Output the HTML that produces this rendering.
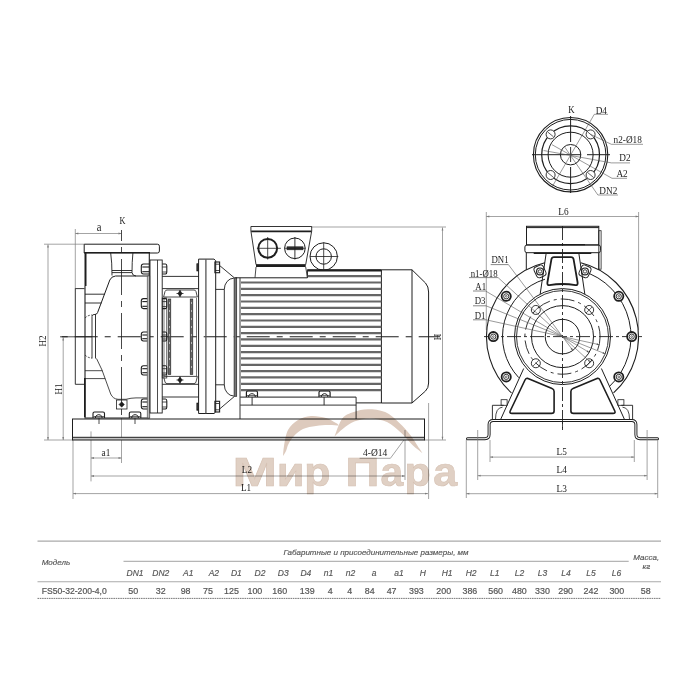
<!DOCTYPE html>
<html><head><meta charset="utf-8"><style>
html,body{margin:0;padding:0;background:#fff;width:700px;height:700px;overflow:hidden}
svg{display:block}
</style></head><body>
<svg width="700" height="700" viewBox="0 0 700 700" stroke-linecap="butt">
<rect width="700" height="700" fill="#fff"/>
<line x1="48.00" y1="244.50" x2="48.00" y2="440.00" stroke="#7c7c7c" stroke-width="0.7" />
<path d="M48.00,244.50 L48.90,247.50 L47.10,247.50Z" fill="#7c7c7c"/>
<path d="M48.00,440.00 L47.10,437.00 L48.90,437.00Z" fill="#7c7c7c"/>
<line x1="44.00" y1="244.20" x2="84.00" y2="244.20" stroke="#7c7c7c" stroke-width="0.7" />
<line x1="44.00" y1="440.00" x2="73.00" y2="440.00" stroke="#7c7c7c" stroke-width="0.7" />
<text transform="translate(46.10 341.00) rotate(-90) scale(0.88 1)" font-family="Liberation Serif" font-size="10.3" fill="#222" text-anchor="middle" >H2</text>
<line x1="63.20" y1="337.50" x2="63.20" y2="440.00" stroke="#7c7c7c" stroke-width="0.7" />
<path d="M63.20,337.50 L64.10,340.50 L62.30,340.50Z" fill="#7c7c7c"/>
<path d="M63.20,440.00 L62.30,437.00 L64.10,437.00Z" fill="#7c7c7c"/>
<text transform="translate(61.90 389.00) rotate(-90) scale(0.88 1)" font-family="Liberation Serif" font-size="10.3" fill="#222" text-anchor="middle" >H1</text>
<line x1="75.30" y1="233.50" x2="121.50" y2="233.50" stroke="#7c7c7c" stroke-width="0.7" />
<path d="M75.30,233.50 L78.30,232.60 L78.30,234.40Z" fill="#7c7c7c"/>
<path d="M121.50,233.50 L118.50,234.40 L118.50,232.60Z" fill="#7c7c7c"/>
<line x1="75.30" y1="229.00" x2="75.30" y2="289.00" stroke="#7c7c7c" stroke-width="0.7" />
<text transform="translate(99.10 231.10) scale(0.85 1)" font-family="Liberation Serif" font-size="12.5" fill="#222" text-anchor="middle" >a</text>
<text transform="translate(122.50 223.60) scale(0.8 1)" font-family="Liberation Serif" font-size="10.3" fill="#222" text-anchor="middle" >K</text>
<line x1="442.50" y1="227.50" x2="442.50" y2="439.80" stroke="#7c7c7c" stroke-width="0.7" />
<path d="M442.50,227.50 L443.40,230.50 L441.60,230.50Z" fill="#7c7c7c"/>
<path d="M442.50,439.80 L441.60,436.80 L443.40,436.80Z" fill="#7c7c7c"/>
<line x1="311.00" y1="227.00" x2="446.00" y2="227.00" stroke="#7c7c7c" stroke-width="0.7" />
<line x1="424.00" y1="440.00" x2="446.00" y2="440.00" stroke="#7c7c7c" stroke-width="0.7" />
<text transform="translate(441.00 337.00) rotate(-90) scale(0.88 1)" font-family="Liberation Serif" font-size="10.3" fill="#222" text-anchor="middle" >H</text>
<line x1="91.00" y1="458.00" x2="121.50" y2="458.00" stroke="#7c7c7c" stroke-width="0.7" />
<path d="M91.00,458.00 L94.00,457.10 L94.00,458.90Z" fill="#7c7c7c"/>
<path d="M121.50,458.00 L118.50,458.90 L118.50,457.10Z" fill="#7c7c7c"/>
<text transform="translate(105.90 455.90) scale(0.88 1)" font-family="Liberation Serif" font-size="10.5" fill="#222" text-anchor="middle" >a1</text>
<line x1="91.00" y1="431.40" x2="91.00" y2="481.40" stroke="#7c7c7c" stroke-width="0.7" />
<line x1="121.50" y1="230.00" x2="121.50" y2="418.00" stroke="#333" stroke-width="0.9" stroke-dasharray="36 6 6 6" stroke-dashoffset="25"/>
<line x1="121.50" y1="418.00" x2="121.50" y2="463.00" stroke="#7c7c7c" stroke-width="0.7" />
<line x1="91.00" y1="476.00" x2="405.00" y2="476.00" stroke="#7c7c7c" stroke-width="0.7" />
<path d="M91.00,476.00 L94.00,475.10 L94.00,476.90Z" fill="#7c7c7c"/>
<path d="M405.00,476.00 L402.00,476.90 L402.00,475.10Z" fill="#7c7c7c"/>
<line x1="405.00" y1="430.00" x2="405.00" y2="480.00" stroke="#7c7c7c" stroke-width="0.7" />
<text transform="translate(246.90 472.60) scale(0.92 1)" font-family="Liberation Serif" font-size="10" fill="#222" text-anchor="middle" >L2</text>
<line x1="73.00" y1="493.60" x2="428.00" y2="493.60" stroke="#7c7c7c" stroke-width="0.7" />
<path d="M73.00,493.60 L76.00,492.70 L76.00,494.50Z" fill="#7c7c7c"/>
<path d="M428.00,493.60 L425.00,494.50 L425.00,492.70Z" fill="#7c7c7c"/>
<line x1="73.00" y1="440.00" x2="73.00" y2="499.00" stroke="#7c7c7c" stroke-width="0.7" />
<line x1="428.60" y1="403.00" x2="428.60" y2="499.00" stroke="#7c7c7c" stroke-width="0.7" />
<text transform="translate(246.00 490.90) scale(0.92 1)" font-family="Liberation Serif" font-size="10" fill="#222" text-anchor="middle" >L1</text>
<text transform="translate(363.00 455.50) scale(0.95 1)" font-family="Liberation Serif" font-size="10" fill="#222" text-anchor="start" >4-Ø14</text>
<path d="M359.6,458.3 L390.4,458.3 L405,438.5" stroke="#7c7c7c" stroke-width="0.7" fill="none" />
<line x1="60.00" y1="336.80" x2="92.00" y2="336.80" stroke="#1e1e1e" stroke-width="0.8" />
<line x1="56.00" y1="336.80" x2="440.00" y2="336.80" stroke="#1e1e1e" stroke-width="1.1" stroke-dasharray="23 7 6 7" stroke-dashoffset="24.3"/>
<rect x="72.50" y="437.30" width="352.00" height="2.70" rx="0" stroke="#1e1e1e" stroke-width="0" fill="#c4c4c4" />
<rect x="72.50" y="419.00" width="352.00" height="21.00" rx="0" stroke="#1e1e1e" stroke-width="1.0" fill="none" />
<line x1="72.50" y1="437.30" x2="424.50" y2="437.30" stroke="#1e1e1e" stroke-width="1.0" />
<path d="M84.2,244.2 L157.4,244.2 Q159.4,244.2 159.4,246.2 L159.4,251 Q159.4,253 157.4,253 L84.2,253 Z" stroke="#1e1e1e" stroke-width="1.0" fill="none" />
<line x1="84.20" y1="252.60" x2="150.00" y2="252.60" stroke="#1e1e1e" stroke-width="1.4" />
<path d="M85,286 L85,418 L149.3,418 L149.3,253" stroke="#1e1e1e" stroke-width="1.1" fill="none" />
<line x1="85.50" y1="253.00" x2="85.50" y2="286.00" stroke="#1e1e1e" stroke-width="2.0" />
<path d="M84.5,288.6 L75.3,288.6 L75.3,384.3 L84,384.3" stroke="#1e1e1e" stroke-width="0.9" fill="none" />
<line x1="84.80" y1="378.00" x2="84.80" y2="417.00" stroke="#1e1e1e" stroke-width="1.6" />
<path d="M110.7,253 Q112,262 112,275.5 M132.9,253 Q132,262 132,272.5 Q132.3,275.8 136,276" stroke="#1e1e1e" stroke-width="0.9" fill="none" />
<line x1="112.00" y1="270.50" x2="132.00" y2="270.50" stroke="#1e1e1e" stroke-width="0.9" />
<line x1="112.00" y1="272.60" x2="132.00" y2="272.60" stroke="#1e1e1e" stroke-width="0.9" />
<path d="M149,276 L115.5,276 Q111.5,276.3 109.8,280 L97.6,312.5 Q96.8,314.5 95,314.5" stroke="#1e1e1e" stroke-width="1.0" fill="none" />
<line x1="85.00" y1="294.20" x2="104.80" y2="294.20" stroke="#1e1e1e" stroke-width="0.9" />
<line x1="85.00" y1="303.00" x2="101.50" y2="303.00" stroke="#1e1e1e" stroke-width="0.9" />
<path d="M92,358.5 L92,316.5 Q92,314.5 94,314.5 L95.5,314.5 L95.5,358.5" stroke="#1e1e1e" stroke-width="0.9" fill="none" />
<path d="M85,318 Q88,315 92,315" stroke="#1e1e1e" stroke-width="0.8" fill="none" stroke-dasharray="2 1.5"/>
<path d="M85,355 Q88,358 92,358" stroke="#1e1e1e" stroke-width="0.8" fill="none" stroke-dasharray="2 1.5"/>
<path d="M96.5,358.5 L102,370 L110.7,394 Q113,399 118,399.3 L126,399.3 Q131,397.9 136,397.9 L148,397.9" stroke="#1e1e1e" stroke-width="0.8" fill="none" />
<line x1="85.00" y1="370.70" x2="102.30" y2="370.70" stroke="#1e1e1e" stroke-width="0.8" />
<line x1="85.00" y1="378.60" x2="105.20" y2="378.60" stroke="#1e1e1e" stroke-width="0.8" />
<path d="M93,418 L93,413.5 Q93,412 94.5,412 L103,412 Q104.5,412 104.5,413.5 L104.5,418" stroke="#1e1e1e" stroke-width="1.1" fill="none" />
<path d="M95.5,418 L95.5,416.5 Q98.75,412.8 102,416.5 L102,418" stroke="#1e1e1e" stroke-width="1.0" fill="none" />
<line x1="93.50" y1="416.60" x2="104.00" y2="416.60" stroke="#1e1e1e" stroke-width="0.7" />
<path d="M129.3,418 L129.3,413.5 Q129.3,412 130.8,412 L139.3,412 Q140.8,412 140.8,413.5 L140.8,418" stroke="#1e1e1e" stroke-width="1.1" fill="none" />
<path d="M131.8,418 L131.8,416.5 Q135.05,412.8 138.3,416.5 L138.3,418" stroke="#1e1e1e" stroke-width="1.0" fill="none" />
<line x1="129.80" y1="416.60" x2="140.30" y2="416.60" stroke="#1e1e1e" stroke-width="0.7" />
<line x1="99.00" y1="418.00" x2="99.00" y2="424.00" stroke="#1e1e1e" stroke-width="0.8" />
<line x1="135.00" y1="418.00" x2="135.00" y2="424.00" stroke="#1e1e1e" stroke-width="0.8" />
<rect x="116.40" y="400.00" width="10.60" height="9.00" rx="0" stroke="#1e1e1e" stroke-width="0.8" fill="none" />
<path d="M121.7,401.8 L124.4,404.5 L121.7,407.2 L119,404.5Z" stroke="#1e1e1e" stroke-width="0.5" fill="#1e1e1e" />
<path d="M149.3,264 L143.5,264 Q141.3,264 141.3,266.5 L141.3,271.5 Q141.3,274 143.5,274 L149.3,274" stroke="#1e1e1e" stroke-width="1.1" fill="none" />
<line x1="142.30" y1="267.00" x2="149.30" y2="267.00" stroke="#1e1e1e" stroke-width="1.1" />
<line x1="142.30" y1="271.70" x2="149.30" y2="271.70" stroke="#1e1e1e" stroke-width="1.1" />
<path d="M162.2,264 L165.5,264 Q166.8,264 166.8,266 L166.8,272 Q166.8,274 165.5,274 L162.2,274" stroke="#1e1e1e" stroke-width="1.1" fill="none" />
<line x1="162.20" y1="267.00" x2="166.80" y2="267.00" stroke="#1e1e1e" stroke-width="0.8" />
<line x1="162.20" y1="272.00" x2="166.80" y2="272.00" stroke="#1e1e1e" stroke-width="0.8" />
<path d="M149.3,298.6 L143.5,298.6 Q141.3,298.6 141.3,301.1 L141.3,306.1 Q141.3,308.6 143.5,308.6 L149.3,308.6" stroke="#1e1e1e" stroke-width="1.1" fill="none" />
<line x1="142.30" y1="301.60" x2="149.30" y2="301.60" stroke="#1e1e1e" stroke-width="1.1" />
<line x1="142.30" y1="306.30" x2="149.30" y2="306.30" stroke="#1e1e1e" stroke-width="1.1" />
<path d="M162.2,298.6 L165.5,298.6 Q166.8,298.6 166.8,300.6 L166.8,306.6 Q166.8,308.6 165.5,308.6 L162.2,308.6" stroke="#1e1e1e" stroke-width="1.1" fill="none" />
<line x1="162.20" y1="301.60" x2="166.80" y2="301.60" stroke="#1e1e1e" stroke-width="0.8" />
<line x1="162.20" y1="306.60" x2="166.80" y2="306.60" stroke="#1e1e1e" stroke-width="0.8" />
<path d="M149.3,332 L143.5,332 Q141.3,332 141.3,334.5 L141.3,338.5 Q141.3,341 143.5,341 L149.3,341" stroke="#1e1e1e" stroke-width="1.1" fill="none" />
<line x1="142.30" y1="335.00" x2="149.30" y2="335.00" stroke="#1e1e1e" stroke-width="1.1" />
<line x1="142.30" y1="338.70" x2="149.30" y2="338.70" stroke="#1e1e1e" stroke-width="1.1" />
<path d="M162.2,332 L165.5,332 Q166.8,332 166.8,334 L166.8,339 Q166.8,341 165.5,341 L162.2,341" stroke="#1e1e1e" stroke-width="1.1" fill="none" />
<line x1="162.20" y1="335.00" x2="166.80" y2="335.00" stroke="#1e1e1e" stroke-width="0.8" />
<line x1="162.20" y1="339.00" x2="166.80" y2="339.00" stroke="#1e1e1e" stroke-width="0.8" />
<path d="M149.3,365.7 L143.5,365.7 Q141.3,365.7 141.3,368.2 L141.3,372.5 Q141.3,375 143.5,375 L149.3,375" stroke="#1e1e1e" stroke-width="1.1" fill="none" />
<line x1="142.30" y1="368.70" x2="149.30" y2="368.70" stroke="#1e1e1e" stroke-width="1.1" />
<line x1="142.30" y1="372.70" x2="149.30" y2="372.70" stroke="#1e1e1e" stroke-width="1.1" />
<path d="M162.2,365.7 L165.5,365.7 Q166.8,365.7 166.8,367.7 L166.8,373 Q166.8,375 165.5,375 L162.2,375" stroke="#1e1e1e" stroke-width="1.1" fill="none" />
<line x1="162.20" y1="368.70" x2="166.80" y2="368.70" stroke="#1e1e1e" stroke-width="0.8" />
<line x1="162.20" y1="373.00" x2="166.80" y2="373.00" stroke="#1e1e1e" stroke-width="0.8" />
<path d="M149.3,399 L143.5,399 Q141.3,399 141.3,401.5 L141.3,406.5 Q141.3,409 143.5,409 L149.3,409" stroke="#1e1e1e" stroke-width="1.1" fill="none" />
<line x1="142.30" y1="402.00" x2="149.30" y2="402.00" stroke="#1e1e1e" stroke-width="1.1" />
<line x1="142.30" y1="406.70" x2="149.30" y2="406.70" stroke="#1e1e1e" stroke-width="1.1" />
<path d="M162.2,399 L165.5,399 Q166.8,399 166.8,401 L166.8,407 Q166.8,409 165.5,409 L162.2,409" stroke="#1e1e1e" stroke-width="1.1" fill="none" />
<line x1="162.20" y1="402.00" x2="166.80" y2="402.00" stroke="#1e1e1e" stroke-width="0.8" />
<line x1="162.20" y1="407.00" x2="166.80" y2="407.00" stroke="#1e1e1e" stroke-width="0.8" />
<rect x="147.20" y="276.00" width="2.60" height="142.00" rx="0" stroke="#444" stroke-width="0.6" fill="#bbb" />
<rect x="150.00" y="260.00" width="12.20" height="153.00" rx="0" stroke="#1e1e1e" stroke-width="0.9" fill="none" />
<line x1="157.50" y1="260.00" x2="157.50" y2="413.00" stroke="#1e1e1e" stroke-width="0.8" />
<line x1="162.20" y1="276.40" x2="198.60" y2="276.40" stroke="#1e1e1e" stroke-width="0.9" />
<line x1="162.20" y1="288.60" x2="198.60" y2="288.60" stroke="#1e1e1e" stroke-width="0.9" />
<line x1="162.20" y1="384.30" x2="198.60" y2="384.30" stroke="#1e1e1e" stroke-width="0.9" />
<line x1="162.20" y1="397.00" x2="198.60" y2="397.00" stroke="#1e1e1e" stroke-width="0.9" />
<path d="M163.6,297 L165,291.5 Q165.5,290 167,290 L194,290 Q195.5,290 196,291.5 L197.3,297 Z" stroke="#1e1e1e" stroke-width="0.8" fill="none" />
<path d="M163.6,376.4 L197.3,376.4 L196,382 Q195.5,383.6 194,383.6 L167,383.6 Q165.5,383.6 165,382 Z" stroke="#1e1e1e" stroke-width="0.8" fill="none" />
<line x1="180.00" y1="290.00" x2="180.00" y2="297.00" stroke="#1e1e1e" stroke-width="0.8" />
<path d="M180,290.3 L182.3,293.5 L180,296.7 L177.7,293.5Z" stroke="#1e1e1e" stroke-width="0.3" fill="#1e1e1e" />
<line x1="176.50" y1="293.50" x2="183.50" y2="293.50" stroke="#1e1e1e" stroke-width="0.8" />
<line x1="180.00" y1="376.50" x2="180.00" y2="383.50" stroke="#1e1e1e" stroke-width="0.8" />
<path d="M180,376.8 L182.3,380 L180,383.2 L177.7,380Z" stroke="#1e1e1e" stroke-width="0.3" fill="#1e1e1e" />
<line x1="176.50" y1="380.00" x2="183.50" y2="380.00" stroke="#1e1e1e" stroke-width="0.8" />
<rect x="168.20" y="299.00" width="2.60" height="75.50" rx="0" stroke="#1e1e1e" stroke-width="0.6" fill="#666" />
<rect x="190.20" y="299.00" width="2.60" height="75.50" rx="0" stroke="#1e1e1e" stroke-width="0.6" fill="#666" />
<line x1="169.50" y1="302.00" x2="169.50" y2="372.00" stroke="#ddd" stroke-width="0.7" stroke-dasharray="2 6"/>
<line x1="191.50" y1="302.00" x2="191.50" y2="372.00" stroke="#ddd" stroke-width="0.7" stroke-dasharray="2 6"/>
<rect x="162.20" y="298.00" width="4.60" height="80.00" rx="0" stroke="#1e1e1e" stroke-width="0.7" fill="none" />
<line x1="164.00" y1="298.00" x2="164.00" y2="376.00" stroke="#1e1e1e" stroke-width="0.6" />
<line x1="196.50" y1="298.00" x2="196.50" y2="376.00" stroke="#1e1e1e" stroke-width="0.6" />
<path d="M198.6,413.5 L198.6,259.1 L214,259.1 L215.7,260.7 L215.7,412 L214,413.5 Z" stroke="#1e1e1e" stroke-width="1.0" fill="none" />
<line x1="205.90" y1="259.30" x2="205.90" y2="413.50" stroke="#555" stroke-width="1.3" />
<rect x="214.90" y="262.00" width="4.70" height="10.70" rx="0" stroke="#1e1e1e" stroke-width="1.1" fill="none" />
<line x1="215.20" y1="264.20" x2="219.40" y2="264.20" stroke="#1e1e1e" stroke-width="0.8" />
<line x1="215.20" y1="270.50" x2="219.40" y2="270.50" stroke="#1e1e1e" stroke-width="0.8" />
<rect x="196.80" y="263.70" width="1.60" height="7.30" rx="0" stroke="#1e1e1e" stroke-width="0.6" fill="#333" />
<rect x="214.90" y="401.30" width="4.70" height="10.70" rx="0" stroke="#1e1e1e" stroke-width="1.1" fill="none" />
<line x1="215.20" y1="403.50" x2="219.40" y2="403.50" stroke="#1e1e1e" stroke-width="0.8" />
<line x1="215.20" y1="409.80" x2="219.40" y2="409.80" stroke="#1e1e1e" stroke-width="0.8" />
<rect x="196.80" y="403.00" width="1.60" height="7.30" rx="0" stroke="#1e1e1e" stroke-width="0.6" fill="#333" />
<path d="M219.6,265.5 L234.3,277.8" stroke="#1e1e1e" stroke-width="0.9" fill="none" />
<path d="M219.6,409 L234.3,396.5" stroke="#1e1e1e" stroke-width="0.9" fill="none" />
<path d="M215.7,289.4 L224.3,289.4 L224.3,384.8 L215.7,384.8" stroke="#1e1e1e" stroke-width="0.9" fill="none" />
<path d="M224.3,289.4 A9.5,11.2 0 0 1 233.8,278.2" stroke="#1e1e1e" stroke-width="0.9" fill="none" />
<path d="M224.3,384.8 A9.5,11.2 0 0 0 233.8,396" stroke="#1e1e1e" stroke-width="0.9" fill="none" />
<rect x="234.10" y="277.80" width="2.60" height="118.50" rx="0" stroke="#222" stroke-width="0.7" fill="#777" />
<line x1="240.00" y1="277.80" x2="240.00" y2="419.00" stroke="#1e1e1e" stroke-width="0.9" />
<path d="M235.3,277.8 L307.4,277.8 L307.4,269.8 L381.4,269.8 L381.4,403 " stroke="#1e1e1e" stroke-width="1.0" fill="none" />
<line x1="307.40" y1="270.50" x2="381.40" y2="270.50" stroke="#1e1e1e" stroke-width="1.8" />
<line x1="240.20" y1="397.10" x2="356.10" y2="397.10" stroke="#1e1e1e" stroke-width="1.0" />
<line x1="356.10" y1="402.90" x2="381.40" y2="402.90" stroke="#1e1e1e" stroke-width="1.0" />
<line x1="241.00" y1="282.50" x2="381.40" y2="282.50" stroke="#666" stroke-width="2.2" />
<line x1="241.00" y1="288.83" x2="381.40" y2="288.83" stroke="#666" stroke-width="2.2" />
<line x1="241.00" y1="295.16" x2="381.40" y2="295.16" stroke="#666" stroke-width="2.2" />
<line x1="241.00" y1="301.49" x2="381.40" y2="301.49" stroke="#666" stroke-width="2.2" />
<line x1="241.00" y1="307.82" x2="381.40" y2="307.82" stroke="#666" stroke-width="2.2" />
<line x1="241.00" y1="314.15" x2="381.40" y2="314.15" stroke="#666" stroke-width="2.2" />
<line x1="241.00" y1="320.48" x2="381.40" y2="320.48" stroke="#666" stroke-width="2.2" />
<line x1="241.00" y1="326.81" x2="381.40" y2="326.81" stroke="#666" stroke-width="2.2" />
<line x1="241.00" y1="333.14" x2="381.40" y2="333.14" stroke="#666" stroke-width="2.2" />
<line x1="241.00" y1="339.47" x2="381.40" y2="339.47" stroke="#666" stroke-width="2.2" />
<line x1="241.00" y1="345.80" x2="381.40" y2="345.80" stroke="#666" stroke-width="2.2" />
<line x1="241.00" y1="352.13" x2="381.40" y2="352.13" stroke="#666" stroke-width="2.2" />
<line x1="241.00" y1="358.46" x2="381.40" y2="358.46" stroke="#666" stroke-width="2.2" />
<line x1="241.00" y1="364.79" x2="381.40" y2="364.79" stroke="#666" stroke-width="2.2" />
<line x1="241.00" y1="371.12" x2="381.40" y2="371.12" stroke="#666" stroke-width="2.2" />
<line x1="241.00" y1="377.45" x2="381.40" y2="377.45" stroke="#666" stroke-width="2.2" />
<line x1="241.00" y1="383.78" x2="381.40" y2="383.78" stroke="#666" stroke-width="2.2" />
<line x1="241.00" y1="390.11" x2="381.40" y2="390.11" stroke="#666" stroke-width="2.2" />
<line x1="307.40" y1="276.20" x2="381.40" y2="276.20" stroke="#666" stroke-width="2.2" />
<path d="M381.4,269.8 L412,269.8 L425.5,283 Q428.6,286.5 428.6,292 L428.6,383 Q428.6,388 425.5,391 L412,403 L381.4,403" stroke="#1e1e1e" stroke-width="1.0" fill="none" />
<line x1="412.00" y1="269.80" x2="412.00" y2="403.00" stroke="#1e1e1e" stroke-width="1.0" />
<path d="M250.9,226.5 L311.7,226.5 L311.7,231 L305.7,264.6 L256,264.6 L250.9,231 Z" stroke="#1e1e1e" stroke-width="0.9" fill="none" />
<line x1="251.20" y1="231.30" x2="311.40" y2="231.30" stroke="#1e1e1e" stroke-width="1.7" />
<line x1="256.00" y1="265.80" x2="305.70" y2="265.80" stroke="#1e1e1e" stroke-width="2.2" />
<path d="M256,267 L255,277.6 M305.7,267 L307.4,277.6" stroke="#1e1e1e" stroke-width="0.8" fill="none" />
<circle cx="267.70" cy="248.30" r="9.40" stroke="#1e1e1e" stroke-width="2.0" fill="none" />
<line x1="256.90" y1="248.30" x2="280.90" y2="248.30" stroke="#1e1e1e" stroke-width="0.8" />
<line x1="267.70" y1="237.00" x2="267.70" y2="259.50" stroke="#1e1e1e" stroke-width="0.8" />
<circle cx="294.90" cy="248.30" r="10.30" stroke="#1e1e1e" stroke-width="1.0" fill="none" />
<rect x="287.00" y="246.80" width="16.00" height="3.00" rx="0" stroke="#1e1e1e" stroke-width="0.6" fill="#333" />
<line x1="284.50" y1="248.30" x2="305.50" y2="248.30" stroke="#1e1e1e" stroke-width="0.8" />
<line x1="294.90" y1="237.00" x2="294.90" y2="259.50" stroke="#1e1e1e" stroke-width="0.9" />
<circle cx="323.70" cy="256.50" r="13.70" stroke="#1e1e1e" stroke-width="1.0" fill="none" />
<circle cx="323.70" cy="256.50" r="7.70" stroke="#1e1e1e" stroke-width="1.0" fill="none" />
<line x1="310.00" y1="256.50" x2="338.30" y2="256.50" stroke="#1e1e1e" stroke-width="0.8" />
<line x1="323.70" y1="242.30" x2="323.70" y2="269.70" stroke="#1e1e1e" stroke-width="0.8" />
<path d="M246.4,397 L246.4,392.5 Q246.4,391 247.9,391 L256.0,391 Q257.5,391 257.5,392.5 L257.5,397" stroke="#1e1e1e" stroke-width="1.2" fill="none" />
<path d="M248.70000000000002,397 L248.70000000000002,395.5 Q251.95000000000002,391.8 255.20000000000002,395.5 L255.20000000000002,397" stroke="#1e1e1e" stroke-width="1.0" fill="none" />
<line x1="246.90" y1="395.60" x2="257.00" y2="395.60" stroke="#1e1e1e" stroke-width="0.7" />
<path d="M319,397 L319,392.5 Q319,391 320.5,391 L328.6,391 Q330.1,391 330.1,392.5 L330.1,397" stroke="#1e1e1e" stroke-width="1.2" fill="none" />
<path d="M321.3,397 L321.3,395.5 Q324.55,391.8 327.8,395.5 L327.8,397" stroke="#1e1e1e" stroke-width="1.0" fill="none" />
<line x1="319.50" y1="395.60" x2="329.60" y2="395.60" stroke="#1e1e1e" stroke-width="0.7" />
<path d="M240.2,405.1 L356.1,405.1 M356.1,397.1 L356.1,419" stroke="#1e1e1e" stroke-width="0.9" fill="none" />
<line x1="252.10" y1="397.10" x2="252.10" y2="405.10" stroke="#1e1e1e" stroke-width="0.9" />
<line x1="324.10" y1="397.10" x2="324.10" y2="405.10" stroke="#1e1e1e" stroke-width="0.9" />
<line x1="486.30" y1="216.50" x2="638.60" y2="216.50" stroke="#7c7c7c" stroke-width="0.7" />
<path d="M486.30,216.50 L489.30,215.60 L489.30,217.40Z" fill="#7c7c7c"/>
<path d="M638.60,216.50 L635.60,217.40 L635.60,215.60Z" fill="#7c7c7c"/>
<line x1="486.30" y1="212.00" x2="486.30" y2="330.00" stroke="#7c7c7c" stroke-width="0.7" />
<line x1="638.60" y1="212.00" x2="638.60" y2="330.00" stroke="#7c7c7c" stroke-width="0.7" />
<text transform="translate(563.40 214.90) scale(0.9 1)" font-family="Liberation Serif" font-size="10.3" fill="#222" text-anchor="middle" >L6</text>
<rect x="526.50" y="226.30" width="72.30" height="18.60" rx="0" stroke="#1e1e1e" stroke-width="1.0" fill="none" />
<line x1="526.50" y1="227.60" x2="598.80" y2="227.60" stroke="#1e1e1e" stroke-width="1.0" />
<rect x="524.90" y="245.00" width="75.50" height="7.70" rx="2" stroke="#1e1e1e" stroke-width="1.0" fill="none" />
<path d="M526.3,252.7 L526.3,269.8 M598.8,252.7 L598.8,270" stroke="#1e1e1e" stroke-width="1.0" fill="none" />
<rect x="598.80" y="230.70" width="2.30" height="38.50" rx="0" stroke="#1e1e1e" stroke-width="0.8" fill="none" />
<line x1="540.00" y1="244.60" x2="585.00" y2="244.60" stroke="#1e1e1e" stroke-width="1.4" />
<line x1="533.70" y1="253.20" x2="591.30" y2="253.20" stroke="#1e1e1e" stroke-width="1.6" />
<path d="M511.45,392.90 A76,76 0 0 1 544.89,262.67" stroke="#1e1e1e" stroke-width="1.1" fill="none" />
<path d="M580.76,262.83 A76,76 0 0 1 613.55,392.90" stroke="#1e1e1e" stroke-width="1.1" fill="none" />
<path d="M518.76,377.67 A60,60 0 0 1 544.96,279.22" stroke="#1e1e1e" stroke-width="1.0" fill="none" />
<path d="M581.38,270.75 A68.5,68.5 0 0 1 609.48,386.45" stroke="#1e1e1e" stroke-width="1.0" fill="none" />
<circle cx="562.50" cy="336.60" r="48.00" stroke="#1e1e1e" stroke-width="1.0" fill="none" />
<circle cx="562.50" cy="336.60" r="46.00" stroke="#1e1e1e" stroke-width="0.9" fill="none" />
<circle cx="562.50" cy="336.60" r="37.60" stroke="#1e1e1e" stroke-width="0.9" fill="none" stroke-dasharray="14 4 3 4"/>
<circle cx="562.50" cy="336.60" r="31.00" stroke="#1e1e1e" stroke-width="1.0" fill="none" />
<circle cx="562.50" cy="336.60" r="17.25" stroke="#1e1e1e" stroke-width="1.0" fill="none" />
<circle cx="589.16" cy="363.26" r="4.50" stroke="#1e1e1e" stroke-width="0.9" fill="none" />
<line x1="586.16" y1="366.26" x2="592.16" y2="360.26" stroke="#1e1e1e" stroke-width="0.7" />
<circle cx="535.84" cy="363.26" r="4.50" stroke="#1e1e1e" stroke-width="0.9" fill="none" />
<line x1="532.84" y1="366.26" x2="538.84" y2="360.26" stroke="#1e1e1e" stroke-width="0.7" />
<circle cx="535.84" cy="309.94" r="4.50" stroke="#1e1e1e" stroke-width="0.9" fill="none" />
<line x1="532.84" y1="312.94" x2="538.84" y2="306.94" stroke="#1e1e1e" stroke-width="0.7" />
<circle cx="589.16" cy="309.94" r="4.50" stroke="#1e1e1e" stroke-width="0.9" fill="none" />
<line x1="586.16" y1="312.94" x2="592.16" y2="306.94" stroke="#1e1e1e" stroke-width="0.7" />
<line x1="484.00" y1="336.60" x2="642.00" y2="336.60" stroke="#1e1e1e" stroke-width="0.9" stroke-dasharray="14 3 3 3"/>
<line x1="562.50" y1="226.00" x2="562.50" y2="430.00" stroke="#1e1e1e" stroke-width="0.9" stroke-dasharray="14 3 3 3"/>
<circle cx="631.70" cy="336.60" r="4.60" stroke="#1e1e1e" stroke-width="1.8" fill="#fff" />
<circle cx="631.70" cy="336.60" r="2.60" stroke="#1e1e1e" stroke-width="0.9" fill="none" />
<circle cx="631.70" cy="336.60" r="0.90" stroke="#1e1e1e" stroke-width="0.6" fill="none" />
<circle cx="493.30" cy="336.60" r="4.60" stroke="#1e1e1e" stroke-width="1.8" fill="#fff" />
<circle cx="493.30" cy="336.60" r="2.60" stroke="#1e1e1e" stroke-width="0.9" fill="none" />
<circle cx="493.30" cy="336.60" r="0.90" stroke="#1e1e1e" stroke-width="0.6" fill="none" />
<circle cx="618.77" cy="376.88" r="4.60" stroke="#1e1e1e" stroke-width="1.8" fill="#fff" />
<circle cx="618.77" cy="376.88" r="2.60" stroke="#1e1e1e" stroke-width="0.9" fill="none" />
<circle cx="618.77" cy="376.88" r="0.90" stroke="#1e1e1e" stroke-width="0.6" fill="none" />
<circle cx="506.23" cy="376.88" r="4.60" stroke="#1e1e1e" stroke-width="1.8" fill="#fff" />
<circle cx="506.23" cy="376.88" r="2.60" stroke="#1e1e1e" stroke-width="0.9" fill="none" />
<circle cx="506.23" cy="376.88" r="0.90" stroke="#1e1e1e" stroke-width="0.6" fill="none" />
<circle cx="618.77" cy="296.32" r="4.60" stroke="#1e1e1e" stroke-width="1.8" fill="#fff" />
<circle cx="618.77" cy="296.32" r="2.60" stroke="#1e1e1e" stroke-width="0.9" fill="none" />
<circle cx="618.77" cy="296.32" r="0.90" stroke="#1e1e1e" stroke-width="0.6" fill="none" />
<circle cx="506.23" cy="296.32" r="4.60" stroke="#1e1e1e" stroke-width="1.8" fill="#fff" />
<circle cx="506.23" cy="296.32" r="2.60" stroke="#1e1e1e" stroke-width="0.9" fill="none" />
<circle cx="506.23" cy="296.32" r="0.90" stroke="#1e1e1e" stroke-width="0.6" fill="none" />
<rect x="535.00" y="265.60" width="10.00" height="11.60" rx="3" stroke="#1e1e1e" stroke-width="0.9" fill="#fff" transform="rotate(-25 540 271.4)"/>
<circle cx="540.00" cy="271.40" r="3.40" stroke="#1e1e1e" stroke-width="1.2" fill="none" />
<circle cx="540.00" cy="271.40" r="1.70" stroke="#1e1e1e" stroke-width="0.8" fill="none" />
<rect x="580.00" y="265.60" width="10.00" height="11.60" rx="3" stroke="#1e1e1e" stroke-width="0.9" fill="#fff" transform="rotate(25 585 271.4)"/>
<circle cx="585.00" cy="271.40" r="3.40" stroke="#1e1e1e" stroke-width="1.2" fill="none" />
<circle cx="585.00" cy="271.40" r="1.70" stroke="#1e1e1e" stroke-width="0.8" fill="none" />
<path d="M546.2,253 L540.2,294 M578.8,253 L584.8,294" stroke="#1e1e1e" stroke-width="1.0" fill="none" />
<path d="M554,257.1 L571,257.1 Q573.2,257.1 573.6,259.3 L577.6,282.5 Q578,285.4 575.5,285.2 Q562.5,282.8 549.5,285.2 Q547,285.4 547.4,282.5 L551.4,259.3 Q551.8,257.1 554,257.1Z" stroke="#1e1e1e" stroke-width="1.8" fill="none" />
<path d="M523.7,368.5 L500.6,419.5 M601.4,368.5 L624.5,419.5" stroke="#1e1e1e" stroke-width="1.0" fill="none" />
<path d="M527.4,378.2 L552,388.5 Q554.1,389.3 554.1,391.5 L554.1,411 Q554.1,413.4 551.5,413.4 L512,413.4 Q509.1,413.4 510.2,411 L525,380 Q526,378 527.4,378.2Z" stroke="#1e1e1e" stroke-width="1.6" fill="none" />
<path d="M597.6,378.2 L573,388.5 Q570.9,389.3 570.9,391.5 L570.9,411 Q570.9,413.4 573.5,413.4 L613,413.4 Q615.9,413.4 614.8,411 L600,380 Q599,378 597.6,378.2Z" stroke="#1e1e1e" stroke-width="1.6" fill="none" />
<path d="M467.5,438.7 L485,438.7 Q489.1,438.7 489.1,434.6 L489.1,424.6 Q489.1,420.5 493.2,420.5 L631.8,420.5 Q635.9,420.5 635.9,424.6 L635.9,434.6 Q635.9,438.7 640,438.7 L657.5,438.7" stroke="#1e1e1e" stroke-width="3.0" fill="none" stroke-linecap="round"/>
<path d="M467.5,438.7 L485,438.7 Q489.1,438.7 489.1,434.6 L489.1,424.6 Q489.1,420.5 493.2,420.5 L631.8,420.5 Q635.9,420.5 635.9,424.6 L635.9,434.6 Q635.9,438.7 640,438.7 L657.5,438.7" stroke="#fff" stroke-width="1.1" fill="none" stroke-linecap="round"/>
<path d="M492.4,419.4 L492.4,405.3 L503.7,405.3" stroke="#1e1e1e" stroke-width="0.9" fill="none" />
<path d="M495.5,419.4 Q495.5,407.5 502.5,407.2" stroke="#1e1e1e" stroke-width="0.8" fill="none" />
<rect x="501.10" y="399.70" width="6.00" height="5.60" rx="0" stroke="#1e1e1e" stroke-width="0.8" fill="none" />
<path d="M632.6,419.4 L632.6,405.3 L621.3,405.3" stroke="#1e1e1e" stroke-width="0.9" fill="none" />
<path d="M629.5,419.4 Q629.5,407.5 622.5,407.2" stroke="#1e1e1e" stroke-width="0.8" fill="none" />
<rect x="617.90" y="399.70" width="6.00" height="5.60" rx="0" stroke="#1e1e1e" stroke-width="0.8" fill="none" />
<line x1="562.50" y1="420.00" x2="562.50" y2="428.00" stroke="#1e1e1e" stroke-width="0.8" />
<line x1="490.00" y1="457.10" x2="634.30" y2="457.10" stroke="#7c7c7c" stroke-width="0.7" />
<path d="M490.00,457.10 L493.00,456.20 L493.00,458.00Z" fill="#7c7c7c"/>
<path d="M634.30,457.10 L631.30,458.00 L631.30,456.20Z" fill="#7c7c7c"/>
<line x1="490.00" y1="440.00" x2="490.00" y2="462.00" stroke="#7c7c7c" stroke-width="0.7" />
<line x1="634.30" y1="440.00" x2="634.30" y2="462.00" stroke="#7c7c7c" stroke-width="0.7" />
<text transform="translate(561.70 455.40) scale(0.9 1)" font-family="Liberation Serif" font-size="10.3" fill="#222" text-anchor="middle" >L5</text>
<line x1="477.70" y1="475.70" x2="647.10" y2="475.70" stroke="#7c7c7c" stroke-width="0.7" />
<path d="M477.70,475.70 L480.70,474.80 L480.70,476.60Z" fill="#7c7c7c"/>
<path d="M647.10,475.70 L644.10,476.60 L644.10,474.80Z" fill="#7c7c7c"/>
<line x1="477.70" y1="430.00" x2="477.70" y2="480.00" stroke="#7c7c7c" stroke-width="0.7" />
<line x1="647.10" y1="430.00" x2="647.10" y2="480.00" stroke="#7c7c7c" stroke-width="0.7" />
<text transform="translate(561.70 473.00) scale(0.9 1)" font-family="Liberation Serif" font-size="10.3" fill="#222" text-anchor="middle" >L4</text>
<line x1="466.30" y1="493.70" x2="657.70" y2="493.70" stroke="#7c7c7c" stroke-width="0.7" />
<path d="M466.30,493.70 L469.30,492.80 L469.30,494.60Z" fill="#7c7c7c"/>
<path d="M657.70,493.70 L654.70,494.60 L654.70,492.80Z" fill="#7c7c7c"/>
<line x1="466.30" y1="440.00" x2="466.30" y2="498.00" stroke="#7c7c7c" stroke-width="0.7" />
<line x1="657.70" y1="440.00" x2="657.70" y2="498.00" stroke="#7c7c7c" stroke-width="0.7" />
<text transform="translate(561.70 491.80) scale(0.9 1)" font-family="Liberation Serif" font-size="10.3" fill="#222" text-anchor="middle" >L3</text>
<text transform="translate(491.50 263.10) scale(0.88 1)" font-family="Liberation Serif" font-size="10" fill="#222" text-anchor="start" >DN1</text>
<line x1="490.70" y1="264.60" x2="508.40" y2="264.60" stroke="#555" stroke-width="0.7" />
<line x1="508.40" y1="264.60" x2="572.86" y2="350.39" stroke="#555" stroke-width="0.6" />
<path d="M572.86,350.39 L570.64,348.93 L572.08,347.85Z" fill="#555"/>
<text transform="translate(470.70 276.90) scale(0.88 1)" font-family="Liberation Serif" font-size="10" fill="#222" text-anchor="start" >n1-Ø18</text>
<line x1="469.00" y1="277.60" x2="498.10" y2="277.60" stroke="#555" stroke-width="0.7" />
<line x1="498.10" y1="277.60" x2="590.30" y2="362.07" stroke="#555" stroke-width="0.6" />
<path d="M590.30,362.07 L587.85,361.04 L589.06,359.71Z" fill="#555"/>
<text transform="translate(475.30 290.00) scale(0.88 1)" font-family="Liberation Serif" font-size="10" fill="#222" text-anchor="start" >A1</text>
<line x1="473.00" y1="291.00" x2="485.60" y2="291.00" stroke="#555" stroke-width="0.7" />
<line x1="485.60" y1="291.00" x2="589.16" y2="352.41" stroke="#555" stroke-width="0.6" />
<path d="M589.16,352.41 L586.56,351.91 L587.47,350.36Z" fill="#555"/>
<text transform="translate(474.70 304.30) scale(0.88 1)" font-family="Liberation Serif" font-size="10" fill="#222" text-anchor="start" >D3</text>
<line x1="473.00" y1="305.80" x2="486.00" y2="305.80" stroke="#555" stroke-width="0.7" />
<line x1="486.00" y1="305.80" x2="605.17" y2="353.78" stroke="#555" stroke-width="0.6" />
<path d="M605.17,353.78 L602.52,353.68 L603.19,352.01Z" fill="#555"/>
<text transform="translate(474.70 318.60) scale(0.88 1)" font-family="Liberation Serif" font-size="10" fill="#222" text-anchor="start" >D1</text>
<line x1="473.00" y1="319.80" x2="486.00" y2="319.80" stroke="#555" stroke-width="0.7" />
<line x1="486.00" y1="319.80" x2="599.22" y2="344.67" stroke="#555" stroke-width="0.6" />
<path d="M599.22,344.67 L596.59,345.01 L596.98,343.25Z" fill="#555"/>
<circle cx="570.60" cy="154.70" r="37.20" stroke="#1e1e1e" stroke-width="1.1" fill="none" />
<circle cx="570.60" cy="154.70" r="35.30" stroke="#1e1e1e" stroke-width="1.0" fill="none" />
<circle cx="570.60" cy="154.70" r="28.90" stroke="#1e1e1e" stroke-width="1.2" fill="none" />
<circle cx="570.60" cy="154.70" r="22.50" stroke="#1e1e1e" stroke-width="1.0" fill="none" />
<circle cx="570.60" cy="154.70" r="10.20" stroke="#1e1e1e" stroke-width="1.0" fill="none" />
<circle cx="550.60" cy="134.40" r="4.50" stroke="#1e1e1e" stroke-width="0.9" fill="#fff" />
<line x1="547.60" y1="131.90" x2="553.60" y2="136.90" stroke="#1e1e1e" stroke-width="0.7" />
<circle cx="550.60" cy="175.00" r="4.50" stroke="#1e1e1e" stroke-width="0.9" fill="#fff" />
<line x1="547.60" y1="172.50" x2="553.60" y2="177.50" stroke="#1e1e1e" stroke-width="0.7" />
<circle cx="590.60" cy="134.40" r="4.50" stroke="#1e1e1e" stroke-width="0.9" fill="#fff" />
<line x1="587.60" y1="131.90" x2="593.60" y2="136.90" stroke="#1e1e1e" stroke-width="0.7" />
<circle cx="590.60" cy="175.00" r="4.50" stroke="#1e1e1e" stroke-width="0.9" fill="#fff" />
<line x1="587.60" y1="172.50" x2="593.60" y2="177.50" stroke="#1e1e1e" stroke-width="0.7" />
<line x1="532.00" y1="154.70" x2="581.00" y2="154.70" stroke="#1e1e1e" stroke-width="1.0" />
<line x1="587.00" y1="154.70" x2="610.00" y2="154.70" stroke="#1e1e1e" stroke-width="1.0" />
<line x1="570.60" y1="116.00" x2="570.60" y2="142.00" stroke="#1e1e1e" stroke-width="1.0" />
<line x1="570.60" y1="147.00" x2="570.60" y2="162.00" stroke="#1e1e1e" stroke-width="0.9" />
<line x1="570.60" y1="167.00" x2="570.60" y2="193.00" stroke="#1e1e1e" stroke-width="1.0" />
<text transform="translate(571.50 113.00) scale(0.88 1)" font-family="Liberation Serif" font-size="10" fill="#222" text-anchor="middle" >K</text>
<line x1="552.00" y1="187.00" x2="594.30" y2="114.30" stroke="#555" stroke-width="0.6" />
<line x1="594.30" y1="114.30" x2="608.00" y2="114.30" stroke="#555" stroke-width="0.6" />
<text transform="translate(595.70 113.60) scale(0.88 1)" font-family="Liberation Serif" font-size="10.5" fill="#222" text-anchor="start" >D4</text>
<line x1="590.60" y1="134.40" x2="611.40" y2="144.30" stroke="#555" stroke-width="0.6" />
<line x1="611.40" y1="144.30" x2="643.00" y2="144.30" stroke="#555" stroke-width="0.6" />
<text transform="translate(613.60 142.90) scale(0.88 1)" font-family="Liberation Serif" font-size="10.5" fill="#222" text-anchor="start" >n2-Ø18</text>
<line x1="543.60" y1="150.50" x2="611.40" y2="162.90" stroke="#555" stroke-width="0.6" />
<line x1="611.40" y1="162.90" x2="630.00" y2="162.90" stroke="#555" stroke-width="0.6" />
<text transform="translate(619.30 160.90) scale(0.88 1)" font-family="Liberation Serif" font-size="10.5" fill="#222" text-anchor="start" >D2</text>
<line x1="552.00" y1="144.70" x2="612.00" y2="178.30" stroke="#555" stroke-width="0.6" />
<line x1="612.00" y1="178.30" x2="627.00" y2="178.30" stroke="#555" stroke-width="0.6" />
<text transform="translate(616.40 177.20) scale(0.88 1)" font-family="Liberation Serif" font-size="10.5" fill="#222" text-anchor="start" >A2</text>
<line x1="564.90" y1="147.30" x2="597.90" y2="195.00" stroke="#555" stroke-width="0.6" />
<line x1="597.90" y1="195.00" x2="618.00" y2="195.00" stroke="#555" stroke-width="0.6" />
<text transform="translate(599.30 194.30) scale(0.88 1)" font-family="Liberation Serif" font-size="10.5" fill="#222" text-anchor="start" >DN2</text>
<g style="mix-blend-mode:multiply">
<path d="M283.0,456.0 C283.2,454.3 283.2,450.3 284.0,446.0 C284.8,441.7 285.7,434.3 288.0,430.0 C290.3,425.7 294.2,422.3 298.0,420.0 C301.8,417.7 306.3,416.3 311.0,416.0 C315.7,415.7 321.8,416.8 326.0,418.0 C330.2,419.2 333.8,421.8 336.0,423.0 C338.2,424.2 338.5,425.1 339.0,425.5 L339.0,425.5 C337.2,425.4 331.8,424.9 328.0,425.0 C324.2,425.1 320.2,425.3 316.0,426.0 C311.8,426.7 306.7,427.3 303.0,429.0 C299.3,430.7 296.4,433.5 294.0,436.0 C291.6,438.5 289.8,441.5 288.5,444.0 C287.2,446.5 286.9,449.0 286.0,451.0 C285.1,453.0 283.5,455.2 283.0,456.0Z" stroke="#ddcabd" stroke-width="0" fill="#ddcabd" />
<path d="M334.5,436.5 C335.8,433.5 339.1,422.7 342.3,418.6 C345.5,414.5 349.4,413.7 353.7,412.1 C358.0,410.6 362.8,409.3 368.0,409.3 C373.2,409.3 379.9,409.8 385.1,412.1 C390.3,414.4 395.1,419.0 399.4,422.9 C403.7,426.8 407.6,431.4 410.9,435.7 C414.2,440.0 417.5,445.7 419.4,448.6 C421.3,451.5 421.8,452.3 422.3,453.0 L422.3,453.0 C420.7,451.7 416.2,448.6 412.7,445.3 C409.2,442.0 405.6,436.9 401.3,433.0 C397.0,429.1 392.2,424.4 387.0,422.0 C381.8,419.6 375.4,418.5 369.9,418.4 C364.4,418.3 358.6,419.8 354.2,421.5 C349.8,423.2 346.6,426.0 343.3,428.5 C340.0,431.0 336.0,435.2 334.5,436.5Z" stroke="#ddcabd" stroke-width="0" fill="#ddcabd" />
<text transform="translate(232.50 486.30) scale(1.3 1)" font-family="Liberation Sans" font-size="41" fill="#e0d0c4" text-anchor="start" font-weight="bold" stroke="#d6c2b4" stroke-width="0.6">М</text>
<text transform="translate(276.70 486.30) scale(1.1 1)" font-family="Liberation Sans" font-size="41" fill="#e0d0c4" text-anchor="start" font-weight="bold" stroke="#d6c2b4" stroke-width="0.6">и</text>
<text transform="translate(304.20 486.30) scale(1.05 1)" font-family="Liberation Sans" font-size="41" fill="#e0d0c4" text-anchor="start" font-weight="bold" stroke="#d6c2b4" stroke-width="0.6">р</text>
<text transform="translate(345.40 486.30) scale(1.15 1)" font-family="Liberation Sans" font-size="41" fill="#e0d0c4" text-anchor="start" font-weight="bold" stroke="#d6c2b4" stroke-width="0.6">П</text>
<text transform="translate(380.60 486.30)" font-family="Liberation Sans" font-size="41" fill="#e0d0c4" text-anchor="start" font-weight="bold" stroke="#d6c2b4" stroke-width="0.6">а</text>
<text transform="translate(404.50 486.30) scale(1.05 1)" font-family="Liberation Sans" font-size="41" fill="#e0d0c4" text-anchor="start" font-weight="bold" stroke="#d6c2b4" stroke-width="0.6">р</text>
<text transform="translate(433.25 486.30) scale(1.05 1)" font-family="Liberation Sans" font-size="41" fill="#e0d0c4" text-anchor="start" font-weight="bold" stroke="#d6c2b4" stroke-width="0.6">а</text>
</g>
<line x1="37.50" y1="541.10" x2="661.00" y2="541.10" stroke="#aaa" stroke-width="1.1" />
<line x1="123.50" y1="561.30" x2="628.70" y2="561.30" stroke="#999" stroke-width="0.9" />
<line x1="37.50" y1="581.80" x2="661.00" y2="581.80" stroke="#aaa" stroke-width="1.1" />
<line x1="37.50" y1="598.40" x2="661.00" y2="598.40" stroke="#555" stroke-width="0.8" stroke-dasharray="1.6 0.7"/>
<text transform="translate(41.70 565.00)" font-family="Liberation Sans" font-size="8" fill="#555" text-anchor="start" font-style="italic" stroke="#555" stroke-width="0.15">Модель</text>
<text transform="translate(376.00 554.50)" font-family="Liberation Sans" font-size="8" fill="#555" text-anchor="middle" font-style="italic" stroke="#555" stroke-width="0.15">Габаритные и присоединительные размеры, мм</text>
<text transform="translate(646.30 559.50)" font-family="Liberation Sans" font-size="8" fill="#555" text-anchor="middle" font-style="italic" stroke="#555" stroke-width="0.15">Масса,</text>
<text transform="translate(646.30 569.00)" font-family="Liberation Sans" font-size="8" fill="#555" text-anchor="middle" font-style="italic" stroke="#555" stroke-width="0.15">кг</text>
<text transform="translate(135.00 575.60)" font-family="Liberation Sans" font-size="8.5" fill="#555" text-anchor="middle" font-style="italic" stroke="#555" stroke-width="0.15">DN1</text>
<text transform="translate(160.80 575.60)" font-family="Liberation Sans" font-size="8.5" fill="#555" text-anchor="middle" font-style="italic" stroke="#555" stroke-width="0.15">DN2</text>
<text transform="translate(188.20 575.60)" font-family="Liberation Sans" font-size="8.5" fill="#555" text-anchor="middle" font-style="italic" stroke="#555" stroke-width="0.15">A1</text>
<text transform="translate(213.90 575.60)" font-family="Liberation Sans" font-size="8.5" fill="#555" text-anchor="middle" font-style="italic" stroke="#555" stroke-width="0.15">A2</text>
<text transform="translate(236.40 575.60)" font-family="Liberation Sans" font-size="8.5" fill="#555" text-anchor="middle" font-style="italic" stroke="#555" stroke-width="0.15">D1</text>
<text transform="translate(260.00 575.60)" font-family="Liberation Sans" font-size="8.5" fill="#555" text-anchor="middle" font-style="italic" stroke="#555" stroke-width="0.15">D2</text>
<text transform="translate(283.20 575.60)" font-family="Liberation Sans" font-size="8.5" fill="#555" text-anchor="middle" font-style="italic" stroke="#555" stroke-width="0.15">D3</text>
<text transform="translate(305.90 575.60)" font-family="Liberation Sans" font-size="8.5" fill="#555" text-anchor="middle" font-style="italic" stroke="#555" stroke-width="0.15">D4</text>
<text transform="translate(328.60 575.60)" font-family="Liberation Sans" font-size="8.5" fill="#555" text-anchor="middle" font-style="italic" stroke="#555" stroke-width="0.15">n1</text>
<text transform="translate(350.40 575.60)" font-family="Liberation Sans" font-size="8.5" fill="#555" text-anchor="middle" font-style="italic" stroke="#555" stroke-width="0.15">n2</text>
<text transform="translate(374.00 575.60)" font-family="Liberation Sans" font-size="8.5" fill="#555" text-anchor="middle" font-style="italic" stroke="#555" stroke-width="0.15">a</text>
<text transform="translate(398.90 575.60)" font-family="Liberation Sans" font-size="8.5" fill="#555" text-anchor="middle" font-style="italic" stroke="#555" stroke-width="0.15">a1</text>
<text transform="translate(422.90 575.60)" font-family="Liberation Sans" font-size="8.5" fill="#555" text-anchor="middle" font-style="italic" stroke="#555" stroke-width="0.15">H</text>
<text transform="translate(447.10 575.60)" font-family="Liberation Sans" font-size="8.5" fill="#555" text-anchor="middle" font-style="italic" stroke="#555" stroke-width="0.15">H1</text>
<text transform="translate(471.10 575.60)" font-family="Liberation Sans" font-size="8.5" fill="#555" text-anchor="middle" font-style="italic" stroke="#555" stroke-width="0.15">H2</text>
<text transform="translate(494.70 575.60)" font-family="Liberation Sans" font-size="8.5" fill="#555" text-anchor="middle" font-style="italic" stroke="#555" stroke-width="0.15">L1</text>
<text transform="translate(519.40 575.60)" font-family="Liberation Sans" font-size="8.5" fill="#555" text-anchor="middle" font-style="italic" stroke="#555" stroke-width="0.15">L2</text>
<text transform="translate(542.50 575.60)" font-family="Liberation Sans" font-size="8.5" fill="#555" text-anchor="middle" font-style="italic" stroke="#555" stroke-width="0.15">L3</text>
<text transform="translate(566.10 575.60)" font-family="Liberation Sans" font-size="8.5" fill="#555" text-anchor="middle" font-style="italic" stroke="#555" stroke-width="0.15">L4</text>
<text transform="translate(591.00 575.60)" font-family="Liberation Sans" font-size="8.5" fill="#555" text-anchor="middle" font-style="italic" stroke="#555" stroke-width="0.15">L5</text>
<text transform="translate(616.60 575.60)" font-family="Liberation Sans" font-size="8.5" fill="#555" text-anchor="middle" font-style="italic" stroke="#555" stroke-width="0.15">L6</text>
<text transform="translate(133.30 593.90)" font-family="Liberation Sans" font-size="8.9" fill="#555" text-anchor="middle" stroke="#555" stroke-width="0.2">50</text>
<text transform="translate(160.70 593.90)" font-family="Liberation Sans" font-size="8.9" fill="#555" text-anchor="middle" stroke="#555" stroke-width="0.2">32</text>
<text transform="translate(185.60 593.90)" font-family="Liberation Sans" font-size="8.9" fill="#555" text-anchor="middle" stroke="#555" stroke-width="0.2">98</text>
<text transform="translate(207.90 593.90)" font-family="Liberation Sans" font-size="8.9" fill="#555" text-anchor="middle" stroke="#555" stroke-width="0.2">75</text>
<text transform="translate(231.50 593.90)" font-family="Liberation Sans" font-size="8.9" fill="#555" text-anchor="middle" stroke="#555" stroke-width="0.2">125</text>
<text transform="translate(254.90 593.90)" font-family="Liberation Sans" font-size="8.9" fill="#555" text-anchor="middle" stroke="#555" stroke-width="0.2">100</text>
<text transform="translate(279.70 593.90)" font-family="Liberation Sans" font-size="8.9" fill="#555" text-anchor="middle" stroke="#555" stroke-width="0.2">160</text>
<text transform="translate(307.20 593.90)" font-family="Liberation Sans" font-size="8.9" fill="#555" text-anchor="middle" stroke="#555" stroke-width="0.2">139</text>
<text transform="translate(330.30 593.90)" font-family="Liberation Sans" font-size="8.9" fill="#555" text-anchor="middle" stroke="#555" stroke-width="0.2">4</text>
<text transform="translate(349.60 593.90)" font-family="Liberation Sans" font-size="8.9" fill="#555" text-anchor="middle" stroke="#555" stroke-width="0.2">4</text>
<text transform="translate(369.80 593.90)" font-family="Liberation Sans" font-size="8.9" fill="#555" text-anchor="middle" stroke="#555" stroke-width="0.2">84</text>
<text transform="translate(391.60 593.90)" font-family="Liberation Sans" font-size="8.9" fill="#555" text-anchor="middle" stroke="#555" stroke-width="0.2">47</text>
<text transform="translate(416.40 593.90)" font-family="Liberation Sans" font-size="8.9" fill="#555" text-anchor="middle" stroke="#555" stroke-width="0.2">393</text>
<text transform="translate(443.70 593.90)" font-family="Liberation Sans" font-size="8.9" fill="#555" text-anchor="middle" stroke="#555" stroke-width="0.2">200</text>
<text transform="translate(469.90 593.90)" font-family="Liberation Sans" font-size="8.9" fill="#555" text-anchor="middle" stroke="#555" stroke-width="0.2">386</text>
<text transform="translate(495.60 593.90)" font-family="Liberation Sans" font-size="8.9" fill="#555" text-anchor="middle" stroke="#555" stroke-width="0.2">560</text>
<text transform="translate(519.40 593.90)" font-family="Liberation Sans" font-size="8.9" fill="#555" text-anchor="middle" stroke="#555" stroke-width="0.2">480</text>
<text transform="translate(542.50 593.90)" font-family="Liberation Sans" font-size="8.9" fill="#555" text-anchor="middle" stroke="#555" stroke-width="0.2">330</text>
<text transform="translate(565.60 593.90)" font-family="Liberation Sans" font-size="8.9" fill="#555" text-anchor="middle" stroke="#555" stroke-width="0.2">290</text>
<text transform="translate(591.00 593.90)" font-family="Liberation Sans" font-size="8.9" fill="#555" text-anchor="middle" stroke="#555" stroke-width="0.2">242</text>
<text transform="translate(616.80 593.90)" font-family="Liberation Sans" font-size="8.9" fill="#555" text-anchor="middle" stroke="#555" stroke-width="0.2">300</text>
<text transform="translate(645.70 593.90)" font-family="Liberation Sans" font-size="8.9" fill="#555" text-anchor="middle" stroke="#555" stroke-width="0.2">58</text>
<text transform="translate(41.80 593.90)" font-family="Liberation Sans" font-size="8.6" fill="#555" text-anchor="start" stroke="#555" stroke-width="0.2">FS50-32-200-4,0</text>
</svg>
</body></html>
